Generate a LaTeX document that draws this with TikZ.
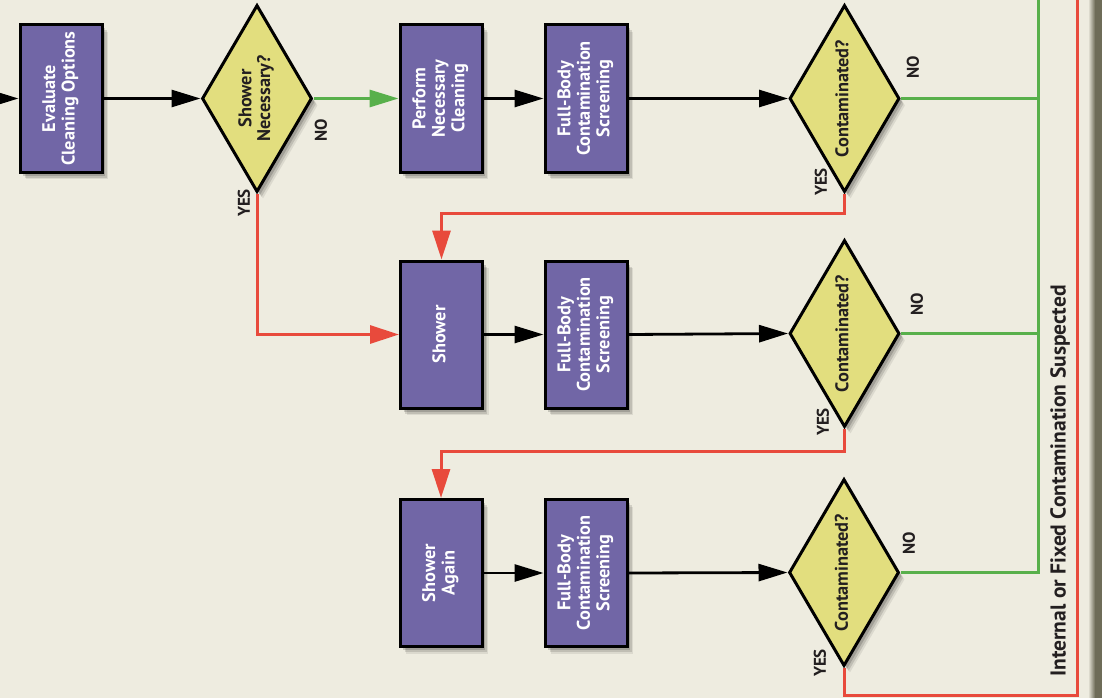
\documentclass[tikz,border=0pt]{standalone}
\usepackage{fontspec}
\setmainfont{PT Sans}
\usetikzlibrary{shapes.geometric,arrows.meta,shadows}
\definecolor{bgc}{HTML}{EEECE0}
\definecolor{stripc}{HTML}{6E6C58}
\definecolor{boxc}{HTML}{7166A6}
\definecolor{diac}{HTML}{E2DE7E}
\definecolor{grn}{HTML}{58B04B}
\definecolor{rdc}{HTML}{E84A3C}
\definecolor{ink}{HTML}{231F20}
\newcommand{\rtext}[1]{\rotatebox{90}{\begin{tabular}{@{}c@{}}#1\end{tabular}}}
\begin{document}
\begin{tikzpicture}[x=1pt,y=-1pt,
  shad/.style={drop shadow={shadow xshift=6pt,shadow yshift=-7pt,opacity=.08,fill=black},
               drop shadow={shadow xshift=4.5pt,shadow yshift=-5.5pt,opacity=.12,fill=black},
               drop shadow={shadow xshift=3pt,shadow yshift=-3.5pt,opacity=.16,fill=black}},
  box/.style={draw=black,line width=3pt,fill=boxc,minimum width=82pt,minimum height=147pt,
    inner sep=0pt,text=white,font=\bfseries\fontsize{18.3}{19.5}\selectfont,shad},
  dia/.style={diamond,draw=black,line width=3pt,fill=diac,minimum width=110pt,minimum height=187pt,
    inner sep=0pt,shape aspect=0.59,text=ink,font=\bfseries\fontsize{18.3}{18.5}\selectfont,shad},
  lab/.style={rotate=90,inner sep=0pt,text=ink,font=\bfseries\fontsize{17}{19}\selectfont},
  blk/.style={line width=2.8pt,draw=black,-{Triangle[length=29pt,width=17pt]}},
  gl/.style={line width=3pt,draw=grn},
  rl/.style={line width=3pt,draw=rdc},
  ga/.style={gl,-{Triangle[length=29pt,width=17pt]}},
  ra/.style={rl,-{Triangle[length=29pt,width=18pt]}}]
\useasboundingbox (0,0) rectangle (1102,698);
\clip (0,0) rectangle (1102,698);
\fill[bgc] (0,0) rectangle (1102,698);
\shade[left color=bgc,right color=stripc] (1088,0) rectangle (1095,698);
\fill[stripc] (1095,0) rectangle (1102,698);

% coordinates for free ends
\coordinate (inl) at (-40,98.5);
\coordinate (gt) at (1038,-5);
\coordinate (rt) at (1077,-5);
\coordinate (rb) at (1077,695);

% row 1
\node[box] (eval) at (61,98.5) {\rtext{Evaluate\\Cleaning Options}};
\node[dia] (nec) at (257,98.5) {\rtext{Shower\\Necessary?}};
\node[box] (perf) at (441,98.5) {\rtext{Perform\\Necessary\\Cleaning}};
\node[box] (fb1) at (586,98.5) {\rtext{Full-Body\\Contamination\\Screening}};
\node[dia] (c1) at (844.5,98.5) {\rtext{Contaminated?}};
% row 2
\node[box] (shw) at (441.5,334.5) {\rtext{Shower}};
\node[box] (fb2) at (586,334.5) {\rtext{Full-Body\\Contamination\\Screening}};
\node[dia] (c2) at (844.5,333.5) {\rtext{Contaminated?}};
% row 3
\node[box] (sha) at (441,573) {\rtext{Shower\\Again}};
\node[box] (fb3) at (586,573) {\rtext{Full-Body\\Contamination\\Screening}};
\node[dia] (c3) at (844,572.5) {\rtext{Contaminated?}};

% green lines
\draw[gl] (c1.east) -- (c1.east -| gt);
\draw[gl] (c2.east) -- (c2.east -| gt);
\draw[gl] (c3.east) -| (gt);
% red lines
\draw[rl] (c3.south) |- (rb) -- (rt);
\draw[ra] (nec.south) |- (shw.west);
\draw[ra] (c1.south) -- ++(0,20) -| (shw.north);
\draw[ra] (c2.south) -- ++(0,23) -| (sha.north);
% black arrows
\draw[blk] (inl) -- (eval.west);
\draw[blk] (eval.east) -- (nec.west);
\draw[ga] (nec.east) -- (perf.west);
\draw[blk] (perf.east) -- (fb1.west);
\draw[blk] (fb1.east) -- (c1.west);
\draw[blk] (shw.east) -- (fb2.west);
\draw[blk] (fb2.east) -- (c2.west);
\draw[blk] (sha.east) -- (fb3.west);
\draw[blk] (fb3.east) -- (c3.west);

% labels
\node[lab] (n0) at (321,130) {NO};
\node[lab] (y0) at (244,203) {YES};
\node[lab] (n1) at (913,67) {NO};
\node[lab] (y1) at (821,182) {YES};
\node[lab] (n2) at (917,304) {NO};
\node[lab] (y2) at (823,422) {YES};
\node[lab] (n3) at (909,543) {NO};
\node[lab] (y3) at (820,663) {YES};
\node[rotate=90,inner sep=0pt,text=ink,font=\bfseries\fontsize{21.5}{24}\selectfont] (susp) at (1060,481)
  {Internal or Fixed Contamination Suspected};
\end{tikzpicture}
\end{document}
